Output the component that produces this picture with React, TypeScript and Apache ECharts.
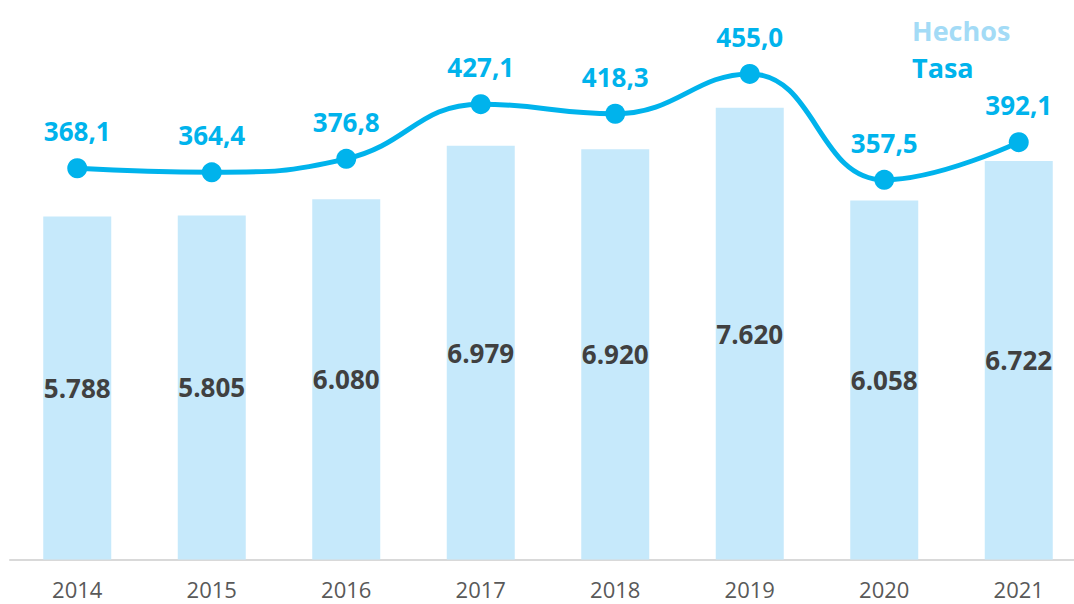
import React, { useEffect, useRef } from "react";
import * as echarts from "echarts";

const years = ["2014", "2015", "2016", "2017", "2018", "2019", "2020", "2021"];
const hechos = [5788, 5805, 6080, 6979, 6920, 7620, 6058, 6722];
const tasa = [368.1, 364.4, 376.8, 427.1, 418.3, 455.0, 357.5, 392.1];

const fmtThousands = (v: number) =>
  String(v).replace(/\B(?=(\d{3})+(?!\d))/g, ".");
const fmtDecimal = (v: number) => v.toFixed(1).replace(".", ",");

const FONT = "'Open Sans', 'Noto Sans', sans-serif";

export default function App() {
  const ref = useRef<HTMLDivElement>(null);
  useEffect(() => {
    if (!ref.current) return;
    const chart = echarts.init(ref.current, null, { renderer: "svg" });
    chart.setOption({
      animation: false,
      textStyle: { fontFamily: FONT },
      legend: {
        orient: "vertical",
        left: 902,
        top: 12,
        icon: "none",
        itemWidth: 0,
        itemHeight: 0,
        itemGap: 10,
        selectedMode: false,
        data: [
          { name: "Hechos", textStyle: { color: "#a3dbf6" } },
          { name: "Tasa", textStyle: { color: "#00b3ec" } },
        ],
        textStyle: { fontSize: 27, fontWeight: 700, fontFamily: FONT },
      },
      grid: {
        left: 10,
        width: 1076,
        top: 0,
        bottom: 44.5,
        containLabel: false,
        outerBoundsMode: "none",
      },
      xAxis: {
        type: "category",
        data: years,
        axisLine: { lineStyle: { color: "#d9d9d9", width: 2 } },
        axisTick: { show: false },
        axisLabel: { color: "#595959", fontSize: 22, margin: 18, fontFamily: FONT },
      },
      yAxis: [
        { type: "value", min: 0, max: 9440, show: false, splitLine: { show: false } },
        { type: "value", min: 8, max: 523, show: false, splitLine: { show: false } },
      ],
      series: [
        {
          name: "Hechos",
          type: "bar",
          data: hechos,
          barWidth: 68,
          itemStyle: { color: "#c6e9fb" },
          label: {
            show: true,
            position: "inside",
            color: "#404040",
            fontSize: 26,
            fontWeight: 700,
            fontFamily: FONT,
            formatter: (p: any) => fmtThousands(p.value),
          },
        },
        {
          name: "Tasa",
          type: "line",
          yAxisIndex: 1,
          data: tasa,
          smooth: 0.45,
          symbol: "circle",
          symbolSize: 20,
          lineStyle: { color: "#00b3ec", width: 5 },
          itemStyle: { color: "#00b3ec" },
          label: {
            show: true,
            position: "top",
            distance: 14,
            color: "#00b3ec",
            fontSize: 26,
            fontWeight: 700,
            fontFamily: FONT,
            formatter: (p: any) => fmtDecimal(p.value),
          },
        },
      ],
    });
    return () => chart.dispose();
  }, []);
  return <div ref={ref} style={{ width: 1074, height: 604, position: "absolute", left: 0, top: 0 }} />;
}
